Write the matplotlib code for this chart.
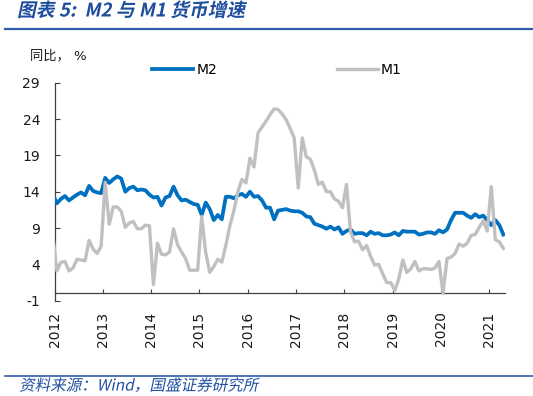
import matplotlib
matplotlib.use('Agg')
import matplotlib.pyplot as plt
import pandas as pd
from matplotlib.lines import Line2D
from matplotlib.patheffects import AbstractPathEffect
from matplotlib.transforms import Affine2D

plt.rcParams['font.family'] = ['DejaVu Sans', 'Noto Sans CJK SC']

# ---------------- data ----------------
months = pd.date_range('2011-12-01', '2021-04-01', freq='MS')

m2 = [13.6,
      12.4, 13.0, 13.4, 12.8, 13.2, 13.6, 13.9, 13.5, 14.8, 14.1, 13.9, 13.8,
      15.9, 15.2, 15.7, 16.1, 15.8, 14.0, 14.5, 14.7, 14.2, 14.3, 14.2, 13.6,
      13.2, 13.3, 12.1, 13.2, 13.4, 14.7, 13.5, 12.8, 12.9, 12.6, 12.3, 12.2,
      10.8, 12.5, 11.6, 10.1, 10.8, 10.2, 13.3, 13.3, 13.1, 13.5, 13.7, 13.3,
      14.0, 13.3, 13.4, 12.8, 11.8, 11.8, 10.2, 11.4, 11.5, 11.6, 11.4, 11.3,
      11.3, 11.1, 10.6, 10.5, 9.6, 9.4, 9.2, 8.9, 9.2, 8.8, 9.1, 8.2,
      8.6, 8.8, 8.2, 8.3, 8.3, 8.0, 8.5, 8.2, 8.3, 8.0, 8.0, 8.1,
      8.4, 8.0, 8.6, 8.5, 8.5, 8.5, 8.1, 8.2, 8.4, 8.4, 8.2, 8.7,
      8.4, 8.8, 10.1, 11.1, 11.1, 11.1, 10.7, 10.4, 10.9, 10.5, 10.7, 10.1,
      9.4, 10.1, 9.4, 8.1]

m1 = [7.9,
      3.1, 4.3, 4.4, 3.1, 3.5, 4.7, 4.6, 4.5, 7.3, 6.1, 5.5, 6.5,
      15.3, 9.5, 11.9, 11.9, 11.3, 9.1, 9.7, 9.9, 8.9, 8.9, 9.4, 9.3,
      1.2, 6.9, 5.4, 5.3, 5.7, 8.9, 6.7, 5.7, 4.8, 3.2, 3.2, 3.2,
      10.6, 5.6, 2.9, 3.7, 4.7, 4.3, 6.6, 9.3, 11.4, 14.0, 15.7, 15.2,
      18.6, 17.4, 22.1, 22.9, 23.7, 24.6, 25.4, 25.3, 24.7, 23.9, 22.7, 21.4,
      14.5, 21.4, 18.8, 18.5, 17.0, 15.0, 15.3, 14.0, 14.0, 13.0, 12.7, 11.8,
      15.0, 8.5, 7.1, 7.2, 6.0, 6.6, 5.1, 3.9, 4.0, 2.7, 1.5, 1.5,
      0.4, 2.0, 4.6, 2.9, 3.4, 4.4, 3.1, 3.4, 3.4, 3.3, 3.5, 4.4,
      0.0, 4.8, 5.0, 5.5, 6.8, 6.5, 6.9, 8.0, 8.1, 9.1, 10.0, 8.6,
      14.7, 7.4, 7.1, 6.2]

year_ticks = list(range(2012, 2022))
year_labels = [str(y) for y in year_ticks]
y_ticks = [-1, 4, 9, 14, 19, 24, 29]

series_names = ['M2', 'M1']
colors = ['#0070C0', '#C0C0C0']


class Slant(AbstractPathEffect):
    """Synthetic italic: shear glyph outlines about the text baseline."""
    def __init__(self, deg=12):
        super().__init__()
        self._shear = Affine2D().skew_deg(deg, 0)

    def draw_path(self, renderer, gc, tpath, affine, rgbFace=None):
        renderer.draw_path(gc, tpath, self._shear + affine, rgbFace)


# ---------------- figure ----------------
W, H = 533, 396
fig = plt.figure(figsize=(W / 100, H / 100), dpi=100)
ax = fig.add_axes([54.7 / W, 1 - 300.7 / H, (505 - 54.7) / W, (300.7 - 82.7) / H])

x = months.year + (months.month - 0.45) / 12.0

l_m2, = ax.plot(x, m2, color=colors[0], lw=2.7, solid_joinstyle='round', zorder=3)
l_m1, = ax.plot(x, m1, color=colors[1], lw=2.4, solid_joinstyle='round', zorder=4)

ax.set_xlim(2012.0, 2021.33)
ax.set_ylim(-1, 29)

for s in ['top', 'right']:
    ax.spines[s].set_visible(False)
ax.spines['bottom'].set_position(('data', 0))
for s in ['left', 'bottom']:
    ax.spines[s].set_color('#404040')
    ax.spines[s].set_linewidth(0.9)

ax.set_xticks(year_ticks)
ax.set_xticklabels(year_labels, rotation=90)
ax.set_yticks(y_ticks)
ax.set_yticklabels([str(v) for v in y_ticks])
ax.tick_params(axis='x', direction='in', length=3.1, width=0.8, color='#404040',
               pad=13, labelsize=10, labelcolor='#1a1a1a')
ax.tick_params(axis='y', direction='in', length=3.3, width=0.8, color='#404040',
               pad=10.5, labelsize=10, labelcolor='#1a1a1a')

# legend
handles = [Line2D([], [], color=colors[0], lw=2.7),
           Line2D([], [], color=colors[1], lw=2.4)]
fig.legend(handles, series_names, loc='center left',
           bbox_to_anchor=(152 / W, 1 - 70 / H), ncol=2, frameon=False,
           fontsize=10, handlelength=2.95, handletextpad=0.25,
           columnspacing=8.6, borderpad=0, borderaxespad=0)

# texts
fig.text(30 / W, 1 - 56 / H, '同比， %', fontsize=9.5, va='center', ha='left',
         color='#1a1a1a', family=['DejaVu Sans', 'Noto Sans CJK SC'])
fig.text(17 / W, 1 - 11 / H, '图表 5:  M2 与 M1 货币增速', fontsize=13.5,
         fontweight='bold', va='center', ha='left', color='#1F4E9E',
         family=['Noto Sans CJK SC', 'DejaVu Sans'], path_effects=[Slant(12)])
fig.text(19 / W, 1 - 386 / H, '资料来源：Wind，国盛证券研究所', fontsize=11.2,
         va='center', ha='left', color='#2050A0',
         family=['Noto Sans CJK SC', 'DejaVu Sans'], path_effects=[Slant(12)])

# rules
fig.add_artist(Line2D([5 / W, 1.0], [1 - 28.5 / H, 1 - 28.5 / H],
                      transform=fig.transFigure, color='#2E5CA8', lw=1.6))
fig.add_artist(Line2D([5 / W, 1.0], [1 - 375.7 / H, 1 - 375.7 / H],
                      transform=fig.transFigure, color='#2E5CA8', lw=1.2))

fig.savefig('out.png', dpi=100)
